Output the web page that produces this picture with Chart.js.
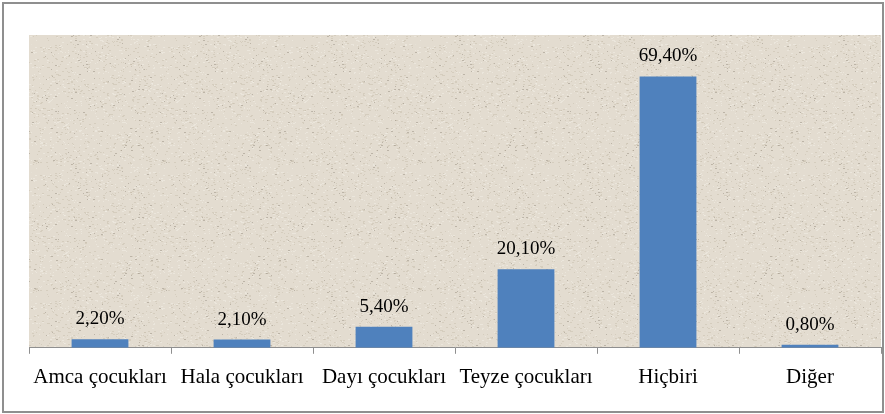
<!DOCTYPE html>
<html>
<head>
<meta charset="utf-8">
<script src="https://cdn.jsdelivr.net/npm/chart.js@4/dist/chart.umd.min.js"></script>
<style>
html,body{margin:0;padding:0;background:#fff;}
#wrap{position:relative;width:885px;height:414px;}
#frame{position:absolute;left:2px;top:2px;width:878px;height:407px;border:2px solid #8f8f8f;}
canvas{position:absolute;left:0;top:0;}
</style>
</head>
<body>
<div id="wrap">
<div id="frame"></div>
<canvas id="c" width="885" height="414"></canvas>
</div>
<script>
const categories = ["Amca çocukları", "Hala çocukları", "Dayı çocukları", "Teyze çocukları", "Hiçbiri", "Diğer"];
const values = [2.2, 2.1, 5.4, 20.1, 69.4, 0.8];
const valueLabels = ["2,20%", "2,10%", "5,40%", "20,10%", "69,40%", "0,80%"];

const FONT = "'Liberation Serif', 'Times New Roman', serif";

// subtle paper-like texture for the plot background (decorative only)
function makeTexture() {
  const c = document.createElement('canvas');
  c.width = 128; c.height = 128;
  const g = c.getContext('2d');
  g.fillStyle = '#E3DCD0';
  g.fillRect(0, 0, 128, 128);
  let s = 12345;
  const rnd = () => { s = (s * 1103515245 + 12345) & 0x7fffffff; return s / 0x7fffffff; };
  for (let i = 0; i < 1400; i++) {
    const x = Math.floor(rnd() * 128), y = Math.floor(rnd() * 128);
    const v = rnd();
    g.fillStyle = v < 0.5 ? 'rgba(200,190,172,0.5)' : (v < 0.93 ? 'rgba(240,236,228,0.6)' : 'rgba(150,140,125,0.5)');
    g.fillRect(x, y, 1 + Math.floor(rnd() * 2), 1);
  }
  return c;
}
const texture = makeTexture();

const bgPlugin = {
  id: 'plotBg',
  beforeDraw(chart) {
    const {ctx, chartArea: a} = chart;
    ctx.save();
    ctx.fillStyle = ctx.createPattern(texture, 'repeat');
    ctx.fillRect(a.left, a.top, a.right - a.left, a.bottom - a.top);
    ctx.restore();
  }
};

const labelPlugin = {
  id: 'valLabels',
  afterDatasetsDraw(chart) {
    const {ctx} = chart;
    const meta = chart.getDatasetMeta(0);
    ctx.save();
    ctx.font = "19px " + FONT;
    ctx.fillStyle = '#000';
    ctx.textAlign = 'center';
    ctx.textBaseline = 'alphabetic';
    meta.data.forEach((bar, i) => {
      ctx.fillText(valueLabels[i], bar.x, bar.y - 15);
    });
    ctx.restore();
  }
};

new Chart(document.getElementById('c'), {
  type: 'bar',
  data: {
    labels: categories,
    datasets: [{
      data: values,
      backgroundColor: '#4F81BD',
      borderWidth: 0,
      categoryPercentage: 1,
      barPercentage: 0.40
    }]
  },
  options: {
    responsive: false,
    animation: false,
    devicePixelRatio: 1,
    layout: {padding: {left: 29, top: 35, right: 4, bottom: 13}},
    plugins: {legend: {display: false}, tooltip: {enabled: false}},
    scales: {
      y: {display: false, min: 0, max: 80},
      x: {
        offset: true,
        grid: {
          display: true,
          drawOnChartArea: false,
          drawTicks: true,
          tickLength: 6,
          color: '#8f8f8f',
          offset: true
        },
        border: {display: true, color: '#8f8f8f', width: 1},
        ticks: {
          color: '#000',
          font: {family: FONT, size: 21},
          padding: 11,
          maxRotation: 0,
          autoSkip: false
        }
      }
    }
  },
  plugins: [bgPlugin, labelPlugin]
});
</script>
</body>
</html>
